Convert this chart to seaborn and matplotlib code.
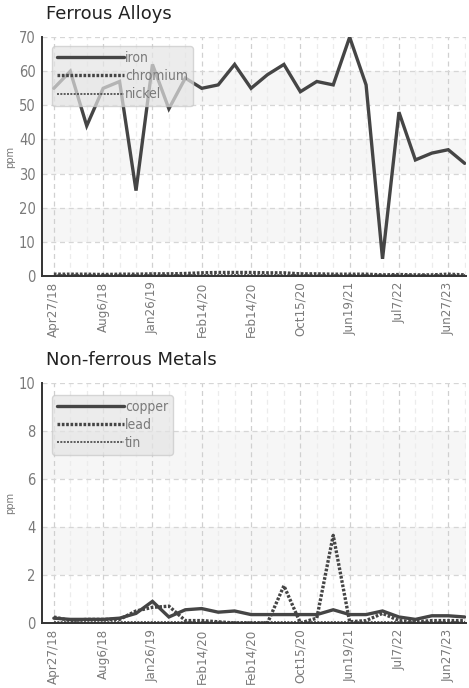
import numpy as np
import pandas as pd
import seaborn as sns
import matplotlib.pyplot as plt
from matplotlib.font_manager import FontProperties

# -------------------------------------------
# data (26 samples, every 3rd one labelled)

tick_labels = ['Apr27/18', 'Aug6/18', 'Jan26/19', 'Feb14/20', 'Feb14/20',
               'Oct15/20', 'Jun19/21', 'Jul7/22', 'Jun27/23']

iron = [55, 60, 44, 55, 57, 25, 62, 49, 58, 55, 56, 62, 55,
        59, 62, 54, 57, 56, 70, 56, 5, 48, 34, 36, 37, 33]
chromium = [0.5, 0.5, 0.5, 0.4, 0.5, 0.5, 0.6, 0.6, 0.7, 0.9, 1.0, 1.0, 1.0,
            0.9, 0.9, 0.6, 0.6, 0.5, 0.5, 0.5, 0.3, 0.4, 0.3, 0.3, 0.5, 0.3]
nickel = [0.2, 0.2, 0.2, 0.2, 0.2, 0.2, 0.2, 0.2, 0.2, 0.2, 0.2, 0.2, 0.2,
          0.2, 0.2, 0.2, 0.2, 0.2, 0.2, 0.2, 0.2, 0.2, 0.2, 0.2, 0.2, 0.2]

copper = [0.2, 0.15, 0.15, 0.15, 0.2, 0.4, 0.9, 0.25, 0.55, 0.6, 0.45, 0.5, 0.35,
          0.35, 0.35, 0.35, 0.35, 0.55, 0.35, 0.35, 0.5, 0.25, 0.15, 0.3, 0.3, 0.25]
lead = [0.25, 0.1, 0.15, 0.15, 0.15, 0.5, 0.65, 0.7, 0.1, 0.1, 0.05, 0.0, 0.0,
        0.0, 1.55, 0.0, 0.2, 3.65, 0.05, 0.1, 0.4, 0.1, 0.05, 0.1, 0.1, 0.1]
tin = [0.05, 0.05, 0.05, 0.05, 0.05, 0.05, 0.05, 0.05, 0.05, 0.05, 0.05, 0.05, 0.05,
       0.05, 0.05, 0.05, 0.05, 0.05, 0.05, 0.05, 0.05, 0.05, 0.05, 0.05, 0.05, 0.05]

# -------------------------------------------

sns.set_style('white')
line_color = '#454545'
text_gray = '#7a7a7a'


def narrow(size):
    # condensed DejaVu if present, plain DejaVu otherwise
    return FontProperties(family='DejaVu Sans', stretch='condensed', size=size)


styles = [dict(lw=2.4, ls='-'),
          dict(lw=2.4, ls=(0, (0.8, 0.5))),
          dict(lw=1.2, ls=(0, (1.2, 0.8)))]


def draw_panel(ax, title, series, ymax, ystep, legend_top):
    idx = np.arange(len(series[0][1]))
    for k, (name, values) in enumerate(series):
        df = pd.DataFrame({'x': idx, 'y': values})
        sns.lineplot(data=df, x='x', y='y', ax=ax, color=line_color, label=name,
                     solid_joinstyle='miter', **styles[k])

    # alternating bands between gridlines
    for j, lo in enumerate(np.arange(0, ymax, ystep)):
        if j % 2 == 1:
            ax.axhspan(lo, lo + ystep, color='#f6f6f6', zorder=0, lw=0)

    ax.set_ylim(0, ymax)
    ax.set_xlim(-0.72, len(idx) - 0.92)
    ax.set_yticks(np.arange(0, ymax + ystep / 2, ystep))
    ax.set_xticks(idx[::3])
    ax.set_xticks(idx, minor=True)
    ax.set_xticklabels(tick_labels, rotation=90, fontproperties=narrow(9.5), color=text_gray)
    for lab in ax.get_yticklabels():
        lab.set_fontproperties(narrow(10.5))
        lab.set_color(text_gray)

    ax.grid(axis='y', which='major', color='#d6d6d6', ls=(0, (4, 3)), lw=0.9)
    ax.grid(axis='x', which='major', color='#d0d0d0', ls=(0, (4, 3)), lw=0.9)
    ax.grid(axis='x', which='minor', color='#ececec', ls=(0, (4, 3)), lw=0.9)
    ax.set_axisbelow(True)

    ax.tick_params(axis='y', direction='inout', length=5, width=1, color='#333333', pad=2)
    ax.tick_params(axis='x', which='major', length=0, pad=4)
    ax.tick_params(axis='x', which='minor', length=0)
    for side in ['top', 'right']:
        ax.spines[side].set_visible(False)
    for side in ['left', 'bottom']:
        ax.spines[side].set_color('#333333')
        ax.spines[side].set_linewidth(1.4)

    ax.set_xlabel('')
    ax.set_ylabel('ppm', fontproperties=narrow(8), color=text_gray, labelpad=3)
    ax.set_title(title, loc='left', fontsize=13, color='#222222', pad=13, x=0.01)

    leg = ax.legend(loc='upper left', bbox_to_anchor=(0.024, legend_top), borderaxespad=0,
                    handlelength=4.8, handletextpad=0.1, labelspacing=0.3,
                    borderpad=0.35, frameon=True, fancybox=True, prop=narrow(10))
    leg.get_frame().set_facecolor('#e4e4e4')
    leg.get_frame().set_alpha(0.7)
    leg.get_frame().set_edgecolor('#c8c8c8')
    for t in leg.get_texts():
        t.set_color(text_gray)


fig = plt.figure(figsize=(4.69, 6.88), dpi=100)
ax_top = fig.add_axes([0.0896, 0.599, 0.904, 0.347])
ax_bot = fig.add_axes([0.0896, 0.0945, 0.904, 0.349])

draw_panel(ax_top, 'Ferrous Alloys',
           [('iron', iron), ('chromium', chromium), ('nickel', nickel)], 70, 10, 0.962)
draw_panel(ax_bot, 'Non-ferrous Metals',
           [('copper', copper), ('lead', lead), ('tin', tin)], 10, 2, 0.95)

fig.savefig('out.png', dpi=100)
